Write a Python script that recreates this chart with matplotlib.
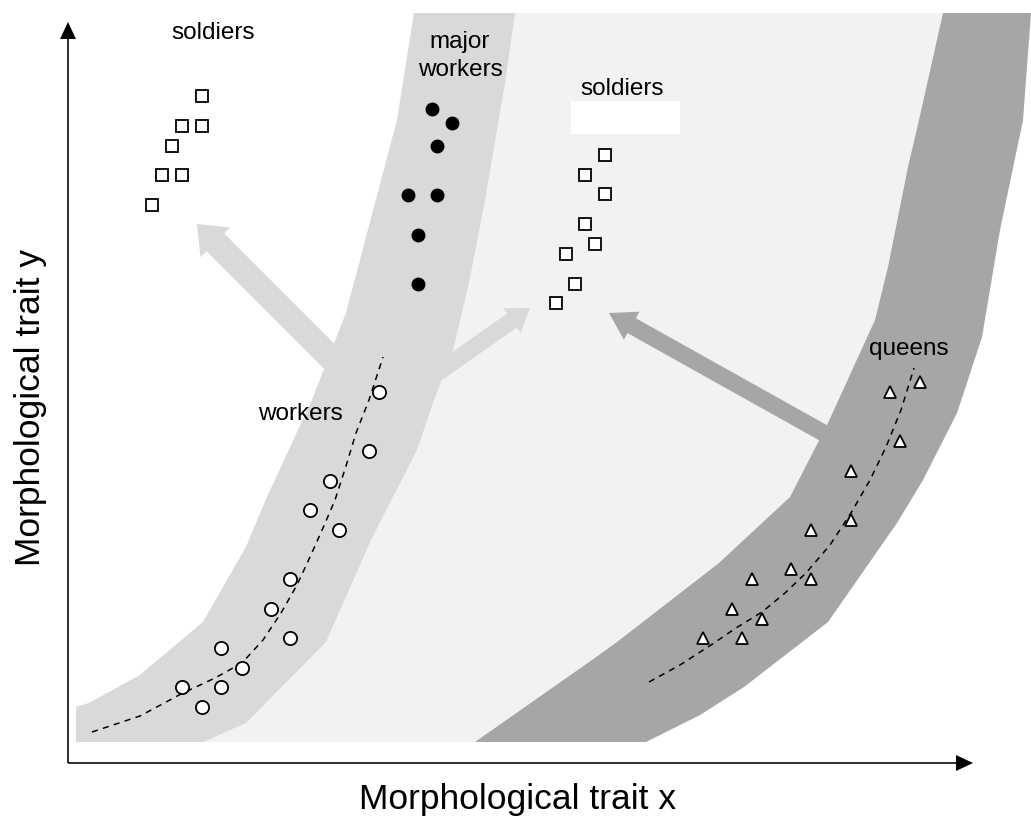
import matplotlib
matplotlib.use("Agg")
import matplotlib.pyplot as plt
from matplotlib.patches import Polygon, Rectangle

plt.rcParams['font.family'] = ['Liberation Sans', 'DejaVu Sans']

# === Data (trait space, origin at the axes corner) ===
# soldiers (left group)
sold_l_x = [134, 114, 134, 104, 94, 114, 84]
sold_l_y = [667, 637, 637, 617, 588, 588, 558]

# major workers
major_x = [364, 384, 369, 340, 369, 350, 350]
major_y = [654, 640, 617, 568, 568, 528, 479]

# soldiers (middle group)
sold_m_x = [537, 517, 537, 517, 527, 498, 507, 488]
sold_m_y = [608, 588, 569, 539, 519, 509, 479, 460]

# workers
work_x = [311, 301, 262, 242, 271, 222, 203, 222, 153, 174, 114, 153, 134]
work_y = [371, 312, 282, 253, 233, 184, 154, 125, 115, 95, 76, 76, 56]
work_curve_x = [24, 72, 113, 147, 174, 195, 213, 229, 242, 255, 267, 278, 288, 301, 315]
work_curve_y = [31, 47, 69, 85, 100, 123, 150, 178, 206, 235, 263, 297, 330, 363, 406]

# queens
queen_x = [852, 822, 832, 783, 783, 743, 723, 743, 684, 664, 694, 635, 674]
queen_y = [381, 371, 322, 292, 243, 233, 194, 184, 184, 154, 144, 125, 125]
queen_curve_x = [581, 612, 643, 668, 694, 717, 738, 762, 783, 802, 818, 833, 846]
queen_curve_y = [81, 98, 118, 135, 151, 170, 190, 218, 250, 283, 316, 353, 395]

# band edges (top -> bottom)
light_left_x = [346, 329, 278, 244, 199, 178, 135, 72, 21, 8, 8]
light_left_y = [750, 643, 450, 363, 266, 216, 141, 88, 60, 56, 21]
light_right_x = [447, 437, 417, 401, 385, 366, 349, 303, 258, 178, 135]
light_right_y = [750, 680, 563, 480, 413, 363, 313, 223, 121, 40, 21]
dark_left_x = [875, 851, 840, 820, 807, 760, 722, 651, 549, 524, 407]
dark_left_y = [750, 643, 596, 496, 443, 340, 266, 200, 121, 103, 21]
dark_right_x = [963, 955, 932, 914, 889, 855, 829, 760, 676, 632, 578]
dark_right_y = [750, 643, 533, 426, 350, 283, 240, 141, 76, 48, 21]

LIGHT = '#d9d9d9'
PALE = '#f2f2f2'
DARK = '#a6a6a6'

fig = plt.figure(figsize=(10.31, 8.17), dpi=100)
ax = fig.add_axes([0, 0, 1, 1])
ax.set_xlim(-68, 963)
ax.set_ylim(-54, 763)
ax.axis('off')

# === Shaded regions ===
outer = list(zip(light_left_x, light_left_y)) + list(zip(dark_right_x, dark_right_y))[::-1]
ax.add_patch(Polygon(outer, closed=True, fc=PALE, ec='none', zorder=1))
light_band = list(zip(light_left_x, light_left_y)) + list(zip(light_right_x, light_right_y))[::-1]
ax.add_patch(Polygon(light_band, closed=True, fc=LIGHT, ec='none', zorder=1.2))
dark_band = list(zip(dark_left_x, dark_left_y)) + list(zip(dark_right_x, dark_right_y))[::-1]
ax.add_patch(Polygon(dark_band, closed=True, fc=DARK, ec='none', zorder=1.2))

# === Big arrows ===
ax.arrow(277, 391, -148, 148, width=25, head_width=42, head_length=26,
         length_includes_head=True, fc=LIGHT, ec='none', zorder=2)
ax.arrow(352, 378, 110, 77, width=17, head_width=30, head_length=22,
         length_includes_head=True, fc=LIGHT, ec='none', zorder=2)
ax.arrow(777, 318, -236, 132, width=17, head_width=32, head_length=26,
         length_includes_head=True, fc=DARK, ec='none', zorder=2)

# === Trend lines ===
ax.plot(work_curve_x, work_curve_y, color='black', lw=1.1, dashes=(4, 3.5), zorder=3)
ax.plot(queen_curve_x, queen_curve_y, color='black', lw=1.1, dashes=(4, 3.5), zorder=3)

# === Points ===
ax.plot(sold_l_x, sold_l_y, 's', ms=8, mfc='white', mec='black', mew=1.3, zorder=4)
ax.plot(sold_m_x, sold_m_y, 's', ms=8, mfc='white', mec='black', mew=1.3, zorder=4)
ax.plot(major_x, major_y, 'o', ms=9, mfc='black', mec='black', zorder=4)
ax.plot(work_x, work_y, 'o', ms=9.5, mfc='white', mec='black', mew=1.3, zorder=4)
ax.plot(queen_x, queen_y, '^', ms=9, mfc='white', mec='black', mew=1.3, zorder=4)

# white box under the middle label
ax.add_patch(Rectangle((503, 629), 109, 33, fc='white', ec='none', zorder=5))

# === Labels ===
ax.text(145, 730, 'soldiers', fontsize=17.5, ha='center', va='center', zorder=6)
ax.text(392, 707, 'major\nworkers', fontsize=17.5, ha='center', va='center',
        linespacing=1.35, zorder=6)
ax.text(554, 674, 'soldiers', fontsize=17.5, ha='center', va='center', zorder=6)
ax.text(232, 349, 'workers', fontsize=17.5, ha='center', va='center', zorder=6)
ax.text(841, 414, 'queens', fontsize=17.5, ha='center', va='center', zorder=6)

# === Axes with arrow heads ===
ax.arrow(0, 0, 0, 741, width=1.6, head_width=16, head_length=17,
         length_includes_head=True, fc='black', ec='none', zorder=6)
ax.arrow(0, 0, 905, 0, width=1.6, head_width=16, head_length=17,
         length_includes_head=True, fc='black', ec='none', zorder=6)
ax.text(450, -37, 'Morphological trait x', fontsize=25.5, ha='center', va='center')
ax.text(-37, 356, 'Morphological trait y', fontsize=25.5, ha='center', va='center',
        rotation=90)

fig.savefig('out.png', dpi=100)
